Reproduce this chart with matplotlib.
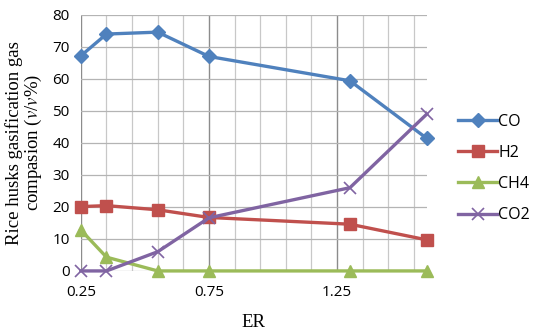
import matplotlib.pyplot as plt
import numpy as np
from matplotlib.ticker import FixedLocator

er = [0.25, 0.35, 0.55, 0.75, 1.3, 1.6]
co = [67.2, 74.0, 74.6, 67.0, 59.4, 41.4]
h2 = [20.1, 20.4, 19.1, 16.7, 14.6, 9.7]
ch4 = [12.8, 4.3, 0, 0, 0, 0]
co2 = [0, 0, 6.0, 16.6, 26.0, 49.0]

major_x = [0.25, 0.75, 1.25]
minor_x = np.arange(0.25, 1.56, 0.1)

plt.rcParams['mathtext.fontset'] = 'stix'

fig = plt.figure(figsize=(5.5, 3.3), dpi=100)
ax = fig.add_axes([0.147, 0.179, 0.629, 0.776])

series = [
    ("CO", co, "#4F81BD", "D", 7.5),
    ("H2", h2, "#C0504D", "s", 8.5),
    ("CH4", ch4, "#9BBB59", "^", 9),
    ("CO2", co2, "#8064A2", "x", 8),
]
for name, vals, col, mk, ms in series:
    ax.plot(er, vals, color=col, lw=2.4, marker=mk, ms=ms, mew=1.2 if mk == "x" else 1,
            label=name, clip_on=False, zorder=3)

ax.set_xlim(0.25, 1.6)
ax.set_ylim(0, 80)
ax.xaxis.set_major_locator(FixedLocator(major_x))
ax.xaxis.set_minor_locator(FixedLocator(minor_x))
ax.set_yticks(range(0, 81, 10))
ax.grid(which="minor", axis="x", color="#c8c8c8", lw=0.9)
ax.grid(which="major", axis="x", color="#8c8c8c", lw=1.0)
ax.grid(which="major", axis="y", color="#b4b4b4", lw=0.9)
ax.set_axisbelow(True)
for s in ax.spines.values():
    s.set_visible(False)
ax.tick_params(which="both", length=0, labelsize=11, pad=8)
for lab in ax.get_xticklabels() + ax.get_yticklabels():
    lab.set_family("Open Sans")
ax.tick_params(axis="x", pad=10)

ax.set_xlabel("ER", family="Liberation Serif", fontsize=13.5, labelpad=10)
ax.set_ylabel("Rice husks gasification gas\ncompasion ($v$/$v$%)",
              family="Liberation Serif", fontsize=13.5, linespacing=1.0, labelpad=6)

leg = ax.legend(loc="center left", bbox_to_anchor=(1.05, 0.4), frameon=False,
                handlelength=2.4, labelspacing=0.95, handletextpad=0.1,
                prop={"family": "Open Sans", "size": 11.5})

fig.savefig("out.png", dpi=100)
